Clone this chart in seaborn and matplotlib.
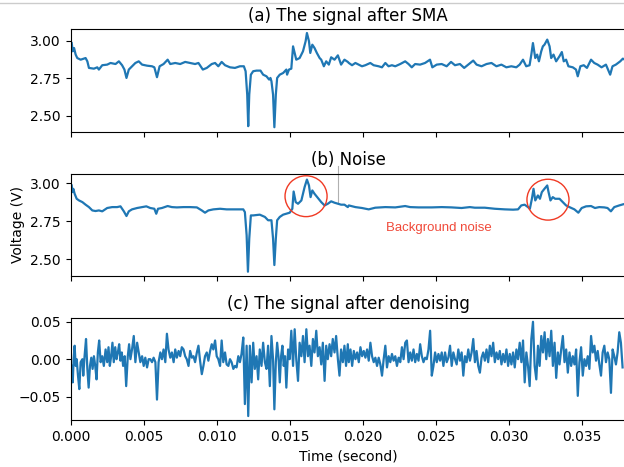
import numpy as np
import matplotlib
matplotlib.use("Agg")
import matplotlib.pyplot as plt
from matplotlib.patches import Ellipse
from matplotlib.lines import Line2D
import seaborn as sns

# ---------------- data (time in ms, voltage in V) ----------------
sma_t_ms = [0.07,0.14,0.23,0.34,0.45,0.68,1.02,1.14,1.25,1.59,1.82,1.93,2.16,2.50,2.73,3.07,3.30,3.52,3.68,3.82,
            3.98,4.20,4.43,4.66,4.89,5.23,5.57,5.73,5.91,6.09,6.36,6.64,6.82,7.16,7.50,7.84,8.18,8.52,8.75,9.05,
            9.32,9.66,9.89,10.11,10.34,10.57,10.91,11.25,11.59,11.86,11.98,12.09,12.16,12.23,12.34,12.50,12.73,13.00,13.18,13.41,
            13.59,13.68,13.75,13.86,13.95,14.05,14.14,14.32,14.55,14.77,14.82,14.95,15.11,15.23,15.34,15.45,15.68,15.91,16.09,16.18,
            16.32,16.41,16.55,16.70,16.86,17.05,17.16,17.34,17.50,17.68,17.84,18.07,18.30,18.52,18.75,18.98,
            19.05,19.27,19.50,19.73,19.95,20.18,20.52,20.75,21.09,21.32,21.55,21.77,22.00,22.23,22.57,22.91,23.14,23.36,23.59,23.93,
            24.27,24.61,24.77,25.07,25.41,25.75,26.05,26.32,26.66,26.95,27.23,27.57,27.80,28.14,28.48,28.82,29.16,29.50,29.84,30.18,
            30.52,30.75,30.98,31.20,31.43,31.55,31.66,31.82,31.95,32.07,32.23,32.34,32.45,32.64,32.80,32.91,33.07,33.25,33.48,33.64,
            33.77,33.93,34.09,34.39,34.61,34.73,34.91,35.14,35.36,35.64,35.86,36.09,36.36,36.66,36.95,37.11,37.34,37.64,37.82,38.00]
sma_v = [2.984,2.929,2.951,2.907,2.884,2.873,2.884,2.862,2.818,2.813,2.822,2.807,2.836,2.840,2.851,2.844,2.862,2.836,2.807,2.751,
         2.807,2.829,2.851,2.862,2.840,2.833,2.829,2.822,2.756,2.829,2.844,2.873,2.844,2.851,2.844,2.858,2.851,2.844,2.851,2.807,
         2.818,2.844,2.851,2.829,2.858,2.836,2.822,2.818,2.829,2.829,2.796,2.640,2.429,2.640,2.773,2.796,2.800,2.800,2.773,2.762,
         2.740,2.751,2.729,2.640,2.422,2.640,2.751,2.773,2.784,2.807,2.773,2.807,2.813,2.962,2.918,2.873,2.884,2.929,2.996,3.051,
         2.996,2.918,2.973,2.951,2.918,2.884,2.873,2.829,2.862,2.840,2.889,2.873,2.902,2.840,2.873,2.858,
         2.851,2.836,2.851,2.840,2.829,2.836,2.851,2.836,2.829,2.822,2.851,2.829,2.836,2.829,2.844,2.862,2.844,2.822,2.844,2.840,
         2.851,2.873,2.822,2.840,2.844,2.829,2.858,2.836,2.844,2.818,2.840,2.867,2.840,2.829,2.844,2.851,2.829,2.840,2.822,2.829,
         2.822,2.840,2.873,2.829,2.836,2.907,2.984,2.884,2.907,2.862,2.929,2.962,2.973,3.007,2.962,2.884,2.907,2.862,2.896,2.924,
         2.862,2.873,2.829,2.822,2.807,2.762,2.829,2.836,2.818,2.873,2.851,2.840,2.822,2.840,2.773,2.829,2.840,2.862,2.880,2.870]

noise_t_ms = [0.07,0.11,0.18,0.27,0.41,0.57,0.80,1.02,1.25,1.48,1.70,1.93,2.16,2.50,2.84,3.18,3.41,3.64,3.82,3.98,
              4.20,4.55,4.89,5.18,5.45,5.73,5.86,5.98,6.25,6.64,6.93,7.27,7.73,8.18,8.64,8.98,9.20,9.43,9.77,10.23,
              10.68,11.14,11.59,11.82,11.93,12.05,12.14,12.23,12.34,12.50,12.95,13.30,13.52,13.75,13.86,13.95,14.05,14.14,14.32,14.55,
              14.77,15.00,15.18,15.27,15.41,15.57,15.80,16.02,16.18,16.32,16.43,16.55,16.70,16.93,17.16,17.39,17.61,17.84,18.07,18.30,
              18.52,18.75,18.98,
              19.05,19.50,19.95,20.41,20.86,21.55,22.23,22.91,23.25,23.82,24.73,25.41,26.09,26.77,27.34,27.68,28.36,29.05,29.73,30.30,
              30.64,30.86,31.09,31.32,31.45,31.59,31.70,31.82,32.00,32.14,32.27,32.45,32.64,32.73,32.86,33.02,33.18,33.48,33.70,33.93,
              34.16,34.50,34.77,35.00,35.30,35.64,35.91,36.20,36.55,36.77,37.00,37.23,37.57,37.82,38.00]
noise_v = [2.987,2.943,2.965,2.932,2.899,2.888,2.877,2.860,2.844,2.822,2.818,2.822,2.816,2.838,2.844,2.844,2.849,2.816,2.785,2.816,
           2.829,2.838,2.844,2.849,2.838,2.833,2.800,2.833,2.838,2.851,2.844,2.842,2.844,2.844,2.842,2.822,2.807,2.822,2.829,2.833,
           2.829,2.829,2.829,2.829,2.811,2.658,2.417,2.636,2.789,2.789,2.794,2.779,2.757,2.757,2.636,2.461,2.636,2.757,2.779,2.794,
           2.800,2.807,2.833,2.947,2.877,2.866,2.888,2.976,3.026,2.987,2.910,2.954,2.932,2.904,2.877,2.855,2.866,2.882,2.873,2.866,
           2.860,2.860,2.844,
           2.855,2.844,2.838,2.829,2.840,2.844,2.842,2.851,2.844,2.842,2.842,2.844,2.842,2.838,2.844,2.840,2.840,2.833,2.829,2.827,
           2.829,2.855,2.860,2.844,2.833,2.899,2.965,2.888,2.921,2.899,2.943,2.965,2.987,2.943,2.888,2.910,2.899,2.899,2.877,2.855,
           2.844,2.829,2.807,2.838,2.849,2.851,2.838,2.844,2.842,2.838,2.816,2.844,2.855,2.862,2.866]

# denoised signal: first half read at these times (ms) ...
denoised_t1_ms = [0.07,0.14,0.20,0.27,0.34,0.41,0.50,0.59,0.68,0.80,0.86,0.95,1.05,1.14,1.23,1.32,1.41,1.50,1.59,1.68,
                  1.77,1.86,1.95,2.05,2.16,2.27,2.39,2.50,2.59,2.68,2.77,2.86,2.95,3.05,3.14,3.23,3.32,3.41,3.50,3.59,
                  3.70,3.80,3.91,4.00,4.09,4.20,4.32,4.43,4.55,4.66,4.77,4.89,5.00,5.11,5.23,5.34,5.45,5.57,5.68,5.80,
                  5.91,6.02,6.14,6.25,6.36,6.48,6.59,6.70,6.82,6.93,7.05,7.16,7.27,7.39,7.50,7.61,7.73,7.84,7.95,8.07,
                  8.18,8.30,8.41,8.52,8.64,8.75,8.86,8.98,9.09,9.20,9.32,9.43,9.55,9.66,9.77,9.89,10.00,10.11,10.23,10.34,
                  10.45,10.57,10.68,10.80,10.91,11.02,11.14,11.25,11.36,11.48,11.59,11.70,11.82,11.93,12.05,12.16,12.27,12.39,12.50,12.61,
                  12.73,12.84,12.95,13.07,13.18,13.30,13.41,13.52,13.64,13.75,13.86,13.95,14.05,14.14,14.23,14.32,14.41,14.50,14.59,14.68,
                  14.77,14.89,15.00,15.11,15.23,15.34,15.45,15.57,15.68,15.80,15.91,16.02,16.14,16.25,16.36,16.48,16.59,16.70,16.82,16.93,
                  17.05,17.16,17.27,17.39,17.50,17.61,17.73,17.84,17.95,18.07,18.18,18.30,18.41,18.52,18.64,18.75,18.86,18.98]
# ... second half read every 0.1136 ms from 19.05 ms to 37.80 ms
denoised_t2_start_ms, denoised_t2_end_ms = 19.05, 37.80

denoised_v = [-0.009,-0.031,0.000,0.018,-0.009,0.000,-0.022,-0.040,-0.004,0.000,-0.022,0.004,0.027,-0.013,-0.038,-0.009,0.002,-0.013,0.004,-0.009,
              -0.027,0.009,0.025,-0.004,0.004,-0.009,0.013,-0.004,0.016,-0.009,0.004,0.022,-0.004,0.016,0.000,0.009,0.020,-0.002,0.009,-0.009,
              0.004,-0.036,0.004,0.020,0.000,0.013,0.031,-0.004,0.022,0.009,-0.004,0.004,-0.009,0.002,-0.011,0.000,0.000,-0.004,0.002,-0.004,
              -0.054,-0.004,0.009,0.000,0.013,-0.004,0.034,0.013,0.002,0.009,-0.004,0.013,0.002,0.011,0.004,0.016,0.013,0.004,0.000,-0.009,
              0.011,0.002,0.004,-0.004,0.009,0.018,-0.002,-0.020,-0.009,0.004,0.009,-0.002,0.011,0.020,0.013,0.025,0.004,0.000,-0.009,0.025,
              -0.004,0.009,-0.007,-0.009,0.000,-0.004,-0.013,-0.009,-0.011,0.004,-0.004,0.007,0.029,-0.060,0.018,-0.076,0.018,-0.031,0.022,-0.013,
              0.004,-0.027,0.013,-0.009,0.022,-0.004,-0.013,0.018,-0.036,0.031,0.000,-0.067,-0.004,0.022,0.004,-0.031,0.004,0.018,-0.009,0.004,
              -0.038,0.013,0.000,0.038,-0.009,0.040,0.000,-0.029,0.022,0.004,0.031,-0.004,0.040,0.004,0.018,-0.009,0.027,0.009,0.038,0.004,
              0.016,-0.007,0.022,-0.029,0.018,0.000,0.020,0.004,0.027,0.009,0.031,0.000,-0.022,0.013,-0.004,0.018,-0.009,0.020,
              -0.004,0.013,-0.009,0.011,0.000,0.009,-0.004,0.016,0.004,0.011,0.002,0.013,-0.002,0.022,0.004,-0.004,0.002,-0.009,0.002,-0.007,
              -0.022,0.000,0.018,-0.011,0.004,-0.004,0.007,-0.002,0.004,-0.009,0.002,-0.004,0.016,0.000,0.022,0.025,-0.004,0.009,-0.002,0.013,
              -0.004,0.007,-0.002,0.020,0.004,-0.004,0.002,0.000,0.013,0.038,-0.022,-0.009,0.009,-0.004,0.007,-0.002,0.009,-0.009,0.009,-0.004,
              0.002,0.018,-0.009,0.009,0.000,-0.007,0.013,-0.002,0.009,-0.022,0.004,-0.004,0.013,-0.002,0.009,0.027,-0.004,0.011,-0.009,-0.018,
              0.002,0.009,-0.002,0.013,-0.004,0.018,0.004,0.022,-0.004,0.009,0.000,0.011,-0.007,0.007,-0.004,0.013,-0.009,0.007,-0.007,0.009,
              -0.011,0.013,0.000,0.022,-0.004,0.025,-0.031,0.009,-0.009,-0.036,0.027,0.050,-0.009,-0.027,0.018,-0.009,0.031,0.009,0.036,0.000,
              0.027,0.004,0.038,-0.009,0.022,-0.025,0.009,-0.007,0.013,0.031,-0.004,0.013,-0.018,0.009,-0.009,0.004,-0.007,0.013,-0.049,-0.004,
              0.016,-0.022,0.000,-0.009,0.004,-0.013,0.031,0.009,0.018,-0.002,0.011,-0.007,-0.022,0.009,0.018,-0.004,0.009,0.000,-0.045,0.013,
              0.004,-0.007,0.009,0.036,0.022,-0.011]

titles = ["(a) The signal after SMA", "(b) Noise", "(c) The signal after denoising"]
yticks_ab = [2.50, 2.75, 3.00]
yticks_c = [-0.05, 0.00, 0.05]

# ---------------- figure ----------------
plt.rcParams['font.family'] = ['DejaVu Sans']
fig, axes = plt.subplots(3, 1, sharex=True, figsize=(6.24, 4.67), dpi=100)
fig.subplots_adjust(left=0.1133, right=1.0024, top=0.9373, bottom=0.1006, hspace=0.41)

n2 = len(denoised_v) - len(denoised_t1_ms)
denoised_t_ms = np.concatenate([denoised_t1_ms,
                                np.linspace(denoised_t2_start_ms, denoised_t2_end_ms, n2)])

blue = '#1f77b4'
series = [
    (np.array(sma_t_ms) * 1e-3, sma_v),
    (np.array(noise_t_ms) * 1e-3, noise_v),
    (denoised_t_ms * 1e-3, denoised_v),
]
for ax, (t, v), title in zip(axes, series, titles):
    sns.lineplot(x=t, y=v, ax=ax, color=blue, linewidth=1.6, estimator=None, sort=False)
    ax.set_title(title, fontsize=12)
    ax.set_xlim(0, 0.038)

axes[0].set_ylim(2.393, 3.076)
axes[1].set_ylim(2.39, 3.066)
axes[2].set_ylim(-0.0813, 0.0554)
axes[0].set_yticks(yticks_ab)
axes[1].set_yticks(yticks_ab)
axes[2].set_yticks(yticks_c)
axes[1].set_ylabel("Voltage (V)", fontsize=10)
axes[2].set_xlabel("Time (second)", fontsize=10)
axes[2].set_xticks([0.0, 0.005, 0.010, 0.015, 0.020, 0.025, 0.030, 0.035])

# annotations on (b)
axb = axes[1]
for cx, cy in [(0.01612, 2.916), (0.03269, 2.893)]:
    axb.add_patch(Ellipse((cx, cy), width=0.00288, height=0.27, fill=False,
                          edgecolor='#f03a24', linewidth=1.0, zorder=5))
axb.text(0.02523, 2.708, "Background noise", ha='center', va='center',
         color='#f04a3a', fontsize=9.5, family=['Liberation Sans', 'DejaVu Sans'])
axb.add_line(Line2D([0.01833, 0.01833], [2.879, 3.114], color='#b0b0b0',
                    linewidth=0.8, clip_on=False, zorder=1))

# thin grey rule at the top of the figure
fig.add_artist(Line2D([0, 1], [1 - 3 / 467, 1 - 3 / 467], color='#cccccc',
                      linewidth=1.0, transform=fig.transFigure))

fig.savefig("out.png", dpi=100)
